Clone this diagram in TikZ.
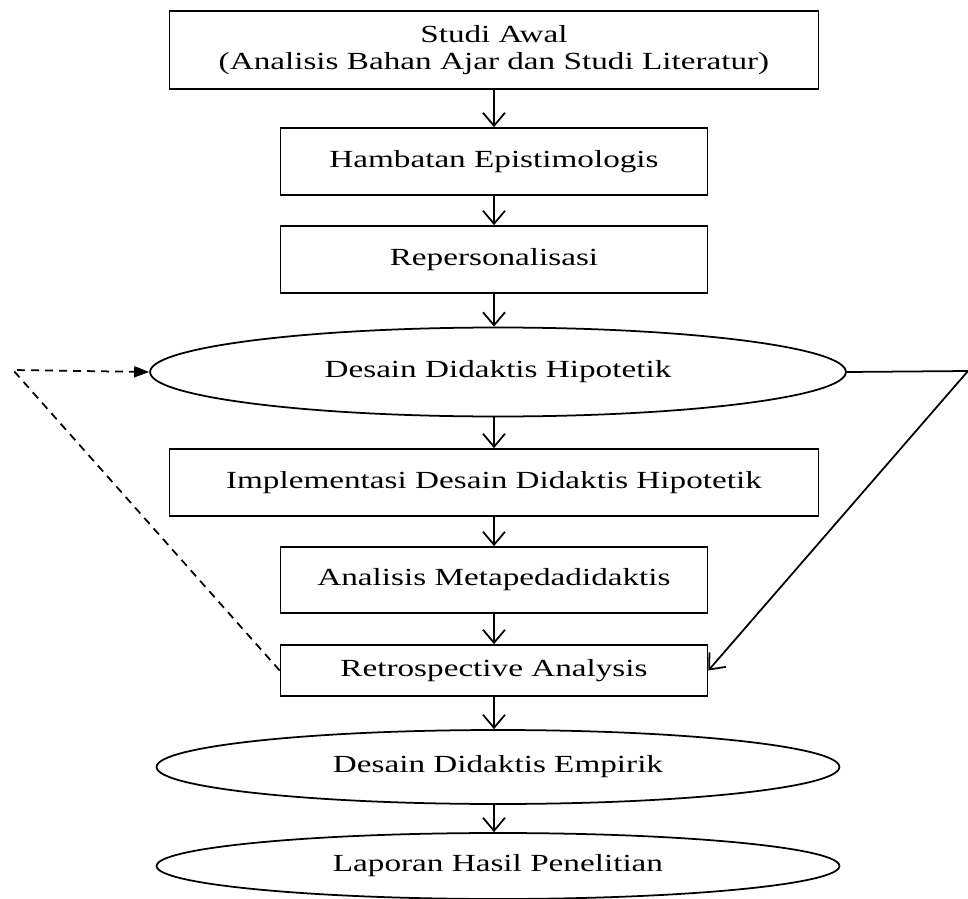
\documentclass[tikz,border=0pt]{standalone}
\usepackage{fontspec}
\setmainfont{Liberation Serif}[FakeStretch=1.35]
\usetikzlibrary{shapes.geometric,arrows.meta}

\tikzset{
  stage/.style={draw,line width=1pt,inner sep=0pt,align=center,
    minimum width=8.54cm,minimum height=1.34cm},
  oval/.style={draw,ellipse,line width=1pt,inner sep=0pt,
    minimum width=13.66cm,minimum height=1.48cm},
  flow/.style={line width=1pt,-{Straight Barb[length=2.6mm,width=4.4mm]}},
  feedback/.style={line width=1pt,dash pattern=on 1.6mm off 1.2mm,
    -{Triangle[length=3mm,width=2.2mm]}}
}

\begin{document}
\begin{tikzpicture}[x=0.02cm,y=-0.02cm,font=\fontsize{14}{15.5}\selectfont]
  \useasboundingbox (0,0) rectangle (968,899);

  % main column of the research steps
  \node[stage,minimum width=12.98cm,minimum height=1.56cm] (awal) at (494,50)
    {Studi Awal\\(Analisis Bahan Ajar dan Studi Literatur)};
  \node[stage] (hambatan) at (494,161.5) {Hambatan Epistimologis};
  \node[stage] (repers) at (494,259.5) {Repersonalisasi};
  \node[oval,minimum width=13.92cm,minimum height=1.78cm] (ddh) at (498,372)
    {Desain Didaktis Hipotetik};
  \node[stage,minimum width=12.98cm] (impl) at (494,482.5)
    {Implementasi Desain Didaktis Hipotetik};
  \node[stage,minimum height=1.32cm] (metaped) at (494,580)
    {Analisis Metapedadidaktis};
  \node[stage,minimum height=1.02cm] (retro) at (494,670.5)
    {Retrospective Analysis};
  \node[oval] (dde) at (498,767) {Desain Didaktis Empirik};
  \node[oval,minimum height=1.32cm] (lapor) at (498,866)
    {Laporan Hasil Penelitian};

  \draw[flow] (awal) -- (awal.south |- hambatan.north);
  \draw[flow] (hambatan) -- (repers);
  \draw[flow] (repers) -- (repers.south |- ddh.north);
  \draw[flow] (ddh.south -| impl) -- (impl);
  \draw[flow] (impl) -- (metaped);
  \draw[flow] (metaped) -- (retro);
  \draw[flow] (retro) -- (retro.south |- dde.north);
  \draw[flow] (retro.south |- dde.south) -- (retro.south |- lapor.north);

  % loops back from the retrospective analysis
  \coordinate (kiri) at (13,370);
  \coordinate (kanan) at (968,371);
  \draw[feedback] (retro.west) -- (kiri) -- (ddh.west);
  \draw[flow] (ddh.east) -- (kanan) -- (retro.east);
\end{tikzpicture}
\end{document}
